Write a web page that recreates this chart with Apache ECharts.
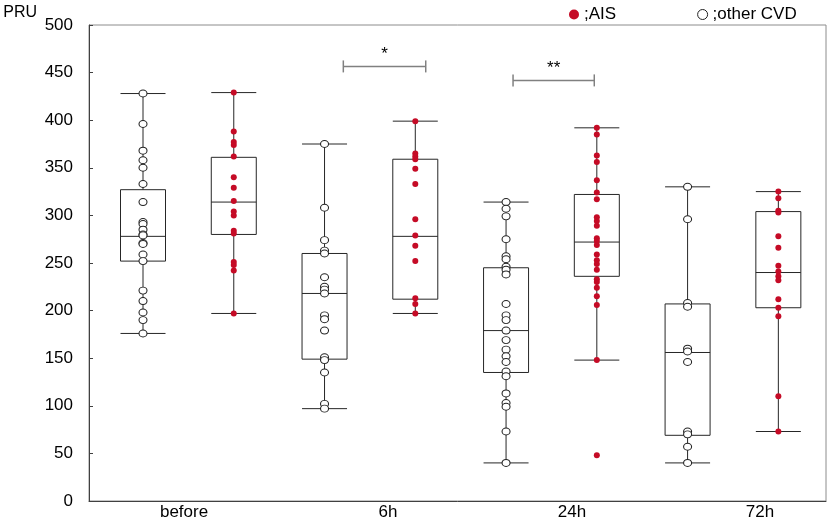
<!DOCTYPE html>
<html>
<head>
<meta charset="utf-8">
<script src="https://cdn.jsdelivr.net/npm/echarts@6/dist/echarts.min.js"></script>
<style>
  html, body { margin: 0; padding: 0; background: #fff; }
  #chart { width: 829px; height: 522px; }
</style>
</head>
<body>
<div id="chart"></div>
<script>
// x positions of the 8 boxes: before CVD, before AIS, 6h CVD, 6h AIS, ...
var boxPos = [1, 2, 3, 4, 5, 6, 7, 8];
// [min, Q1, median, Q3, max]
var boxStats = [
    [176, 252, 278, 327, 428],
    [197, 280, 314, 361, 429],
    [97, 149, 218, 260, 375],
    [197, 212, 278, 359, 399],
    [40, 135, 179, 245, 314],
    [148, 236, 272, 322, 392],
    [40, 69, 156, 207, 330],
    [73, 203, 240, 304, 325]
];

// tick labels of the x axis and where they sit
var timeLabels = ['before', '6h', '24h', '72h'];
var labelPos = [1.452, 3.699, 5.727, 7.798];

// other CVD points (open circles)
var cvdBefore = [428, 396, 368, 358, 350, 333, 314, 293, 291, 285, 280, 279, 271, 270, 259, 252, 221, 210, 198, 190, 176];
var cvd6h = [375, 308, 274, 263, 260, 235, 225, 222, 218, 195, 191, 179, 151, 148, 135, 102, 97];
var cvd24h = [314, 307, 299, 275, 257, 254, 246, 243, 238, 207, 195, 190, 179, 169, 159, 152, 146, 136, 131, 113, 103, 99, 73, 40];
var cvd72h = [330, 296, 208, 204, 160, 157, 146, 73, 70, 57, 40];

// AIS points (red dots)
var aisBefore = [429, 388, 377, 374, 362, 340, 329, 315, 304, 300, 284, 281, 251, 248, 242, 197];
var ais6h = [399, 365, 362, 359, 349, 333, 296, 279, 268, 252, 213, 207, 197];
var ais24h = [392, 385, 363, 356, 337, 324, 317, 298, 294, 289, 276, 273, 269, 259, 253, 249, 243, 233, 230, 224, 215, 206, 148, 48];
var ais72h = [325, 318, 305, 303, 278, 266, 247, 241, 236, 232, 212, 203, 194, 110, 73];

// significance brackets: [x from, x to, y]
var sigBrackets = [[3.207, 4.115, 456.5], [5.077, 5.972, 441.8]];
var sigLabels = ['*', '**'];

var FONT = "'Liberation Sans', Arial, sans-serif";

function toPoints(groups, positions) {
    var out = [];
    groups.forEach(function (vals, i) {
        vals.forEach(function (v) { out.push([positions[i], v]); });
    });
    return out;
}

var chart = echarts.init(document.getElementById('chart'));

chart.setOption({
    animation: false,
    backgroundColor: '#fff',
    grid: {
        left: 89, right: 3, top: 25, bottom: 21,
        show: true, borderColor: '#8c8c8c', borderWidth: 1
    },
    legend: {
        left: 564, top: 1,
        itemWidth: 10, itemHeight: 10, itemGap: 81,
        textStyle: { fontSize: 17, color: '#000', fontFamily: FONT },
        data: [
            { name: ';AIS', icon: 'circle' },
            { name: ';other CVD', icon: 'circle', itemStyle: { color: '#fff', borderColor: '#222', borderWidth: 1 } }
        ]
    },
    xAxis: {
        type: 'value',
        min: 0.405,
        max: 8.525,
        splitLine: { show: false },
        axisTick: { show: false },
        axisLine: { lineStyle: { color: '#404040', width: 1 } },
        axisLabel: {
            customValues: labelPos,
            margin: 3,
            fontSize: 17,
            color: '#000',
            fontFamily: FONT,
            formatter: function (v) {
                for (var i = 0; i < labelPos.length; i++) {
                    if (Math.abs(labelPos[i] - v) < 1e-6) return timeLabels[i];
                }
                return '';
            }
        }
    },
    yAxis: {
        type: 'value',
        min: 0,
        max: 500,
        interval: 50,
        name: 'PRU',
        nameLocation: 'end',
        nameGap: 12,
        nameTextStyle: {
            fontSize: 16, color: '#000', fontFamily: FONT,
            align: 'right', verticalAlign: 'middle', padding: [0, 52, 0, 0]
        },
        splitLine: { show: false },
        axisLine: { show: true, lineStyle: { color: '#404040', width: 1 } },
        axisTick: { show: true, inside: true, length: 4, lineStyle: { color: '#404040' } },
        axisLabel: { margin: 16, fontSize: 17, color: '#000', fontFamily: FONT }
    },
    series: [
        {
            name: 'box',
            type: 'boxplot',
            boxWidth: [45, 45],
            z: 1,
            itemStyle: { color: '#fff', borderColor: '#262626', borderWidth: 1 },
            emphasis: { disabled: true },
            data: boxPos.map(function (p, i) { return [p].concat(boxStats[i]); })
        },
        {
            name: ';other CVD',
            type: 'scatter',
            symbol: 'circle',
            symbolSize: [8, 7],
            z: 3,
            itemStyle: { color: '#fff', borderColor: '#222', borderWidth: 1, opacity: 1 },
            data: toPoints([cvdBefore, cvd6h, cvd24h, cvd72h], [boxPos[0], boxPos[2], boxPos[4], boxPos[6]])
        },
        {
            name: ';AIS',
            type: 'scatter',
            symbol: 'circle',
            symbolSize: 6,
            z: 3,
            itemStyle: { color: '#c50b26', opacity: 1 },
            data: toPoints([aisBefore, ais6h, ais24h, ais72h], [boxPos[1], boxPos[3], boxPos[5], boxPos[7]])
        },
        {
            name: 'sig',
            type: 'custom',
            z: 4,
            silent: true,
            encode: { x: [0, 1], y: 2 },
            data: sigBrackets,
            renderItem: function (params, api) {
                var p1 = api.coord([api.value(0), api.value(2)]);
                var p2 = api.coord([api.value(1), api.value(2)]);
                var st = { stroke: '#808080', lineWidth: 1.5 };
                return {
                    type: 'group',
                    children: [
                        { type: 'line', shape: { x1: p1[0], y1: p1[1], x2: p2[0], y2: p2[1] }, style: st },
                        { type: 'line', shape: { x1: p1[0], y1: p1[1] - 6, x2: p1[0], y2: p1[1] + 6 }, style: st },
                        { type: 'line', shape: { x1: p2[0], y1: p2[1] - 6, x2: p2[0], y2: p2[1] + 6 }, style: st },
                        {
                            type: 'text',
                            style: {
                                text: sigLabels[params.dataIndex],
                                x: (p1[0] + p2[0]) / 2, y: p1[1] - 4,
                                align: 'center', verticalAlign: 'bottom',
                                fontSize: 17, fontFamily: FONT, fill: '#000'
                            }
                        }
                    ]
                };
            }
        }
    ]
});
</script>
</body>
</html>
